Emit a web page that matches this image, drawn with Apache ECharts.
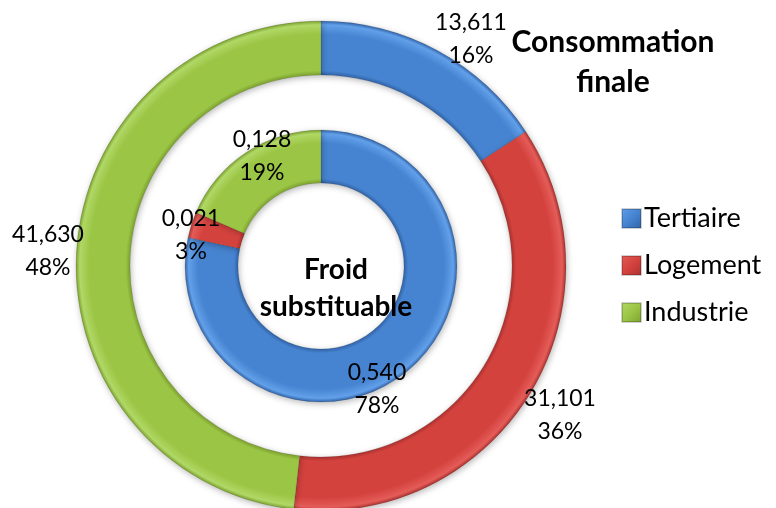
<!DOCTYPE html>
<html>
<head>
<meta charset="utf-8">
<script src="https://cdn.jsdelivr.net/npm/echarts@6/dist/echarts.min.js"></script>
<style>
  html, body { margin: 0; padding: 0; background: #ffffff; }
  #chart { width: 776px; height: 508px; }
</style>
</head>
<body>
<div id="chart"></div>
<script>
// Secteurs
const categories = ['Tertiaire', 'Logement', 'Industrie'];
// Consommation finale (anneau extérieur)
const consommationFinale = [13.611, 31.101, 41.630];
// Froid substituable (anneau intérieur)
const froidSubstituable = [0.540, 0.021, 0.128];

// Palette : [clair, base, sombre]
const palette = {
  Tertiaire: ['#62A0EA', '#4683D0', '#3163A6'],
  Logement:  ['#E45C58', '#D4423E', '#A8322F'],
  Industrie: ['#B0D866', '#9BC544', '#7CA031']
};

const CX = 321, CY = 266;
const OUTER = [191, 245];
const INNER = [83, 136];

function ringColor(name, r0, r1) {
  const c = palette[name];
  const f = r0 / r1;
  return {
    type: 'radial', x: CX, y: CY, r: r1, global: true,
    colorStops: [
      { offset: f, color: c[2] },
      { offset: f + (1 - f) * 0.08, color: c[1] },
      { offset: f + (1 - f) * 0.75, color: c[1] },
      { offset: f + (1 - f) * 0.93, color: c[0] },
      { offset: 1, color: c[2] }
    ]
  };
}

function legendColor(name) {
  const c = palette[name];
  return {
    type: 'linear', x: 0, y: 0, x2: 1, y2: 1,
    colorStops: [
      { offset: 0, color: c[0] },
      { offset: 0.5, color: c[1] },
      { offset: 1, color: c[2] }
    ]
  };
}

function fmt(p) {
  return p.value.toFixed(3).replace('.', ',') + '\n' + Math.round(p.percent) + '%';
}

// Emplacement des étiquettes (centre du bloc de texte), par série puis par secteur
const labelSpots = [
  [[471, 39], [560, 415], [48, 251]],
  [[377, 389], [191, 235], [262, 156]]
];

const labelStyle = {
  show: true,
  formatter: fmt,
  fontFamily: 'Lato',
  fontSize: 23,
  lineHeight: 33,
  color: '#000000'
};

function ring(name, values, radii, idx) {
  return {
    name: name,
    type: 'pie',
    center: [CX, CY],
    radius: radii,
    startAngle: 90,
    clockwise: true,
    avoidLabelOverlap: false,
    silent: true,
    z: 2,
    label: labelStyle,
    labelLine: { show: false },
    labelLayout: function (p) {
      const s = labelSpots[idx][p.dataIndex];
      return { x: s[0], y: s[1], align: 'center', verticalAlign: 'middle' };
    },
    itemStyle: {
      borderColor: 'rgba(0,0,0,0.18)',
      borderWidth: 0.6,
      shadowBlur: 6,
      shadowOffsetX: 1,
      shadowOffsetY: 2,
      shadowColor: 'rgba(0,0,0,0.28)'
    },
    data: categories.map((c, i) => ({
      name: c,
      value: values[i],
      itemStyle: { color: ringColor(c, radii[0], radii[1]) }
    }))
  };
}

const chart = echarts.init(document.getElementById('chart'), null, { renderer: 'canvas' });
chart.setOption({
  animation: false,
  backgroundColor: '#ffffff',
  legend: {
    orient: 'vertical',
    left: 616,
    top: 199,
    icon: 'rect',
    itemWidth: 19,
    itemHeight: 19,
    itemGap: 18,
    textStyle: { fontFamily: 'Lato', fontSize: 27, lineHeight: 29, color: '#000000', padding: [0, 0, 0, -2] },
    data: categories.map(c => ({ name: c, itemStyle: { color: legendColor(c) } }))
  },
  graphic: [
    {
      type: 'text', x: 613, y: 62, z: 100,
      style: {
        text: 'Consommation\nfinale',
        fontFamily: 'Lato', fontWeight: 'bold', fontSize: 30, lineHeight: 40,
        fill: '#000000', align: 'center', verticalAlign: 'middle'
      }
    },
    {
      type: 'text', x: 336, y: 288, z: 100,
      style: {
        text: 'Froid\nsubstituable',
        fontFamily: 'Lato', fontWeight: 'bold', fontSize: 28, lineHeight: 37,
        fill: '#000000', align: 'center', verticalAlign: 'middle'
      }
    }
  ],
  series: [
    ring('Consommation finale', consommationFinale, OUTER, 0),
    ring('Froid substituable', froidSubstituable, INNER, 1)
  ]
});
</script>
</body>
</html>
